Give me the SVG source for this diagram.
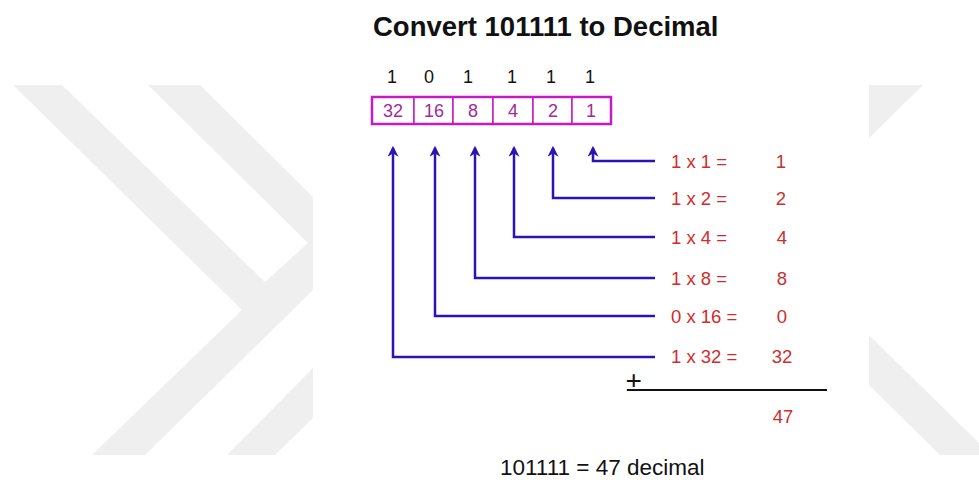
<svg xmlns="http://www.w3.org/2000/svg" width="979" height="480" viewBox="0 0 979 480">
  <defs>
    <style>
      .wm { fill: #efefef; }
      .title { font-family: "Liberation Sans", Arial, sans-serif; font-weight: bold; font-size: 27.5px; fill: #111; }
      .bit { font-family: "Liberation Sans", Arial, sans-serif; font-size: 18px; fill: #111; text-anchor: middle; }
      .cellnum { font-family: "Liberation Sans", Arial, sans-serif; font-size: 18px; fill: #a02aa0; text-anchor: middle; }
      .cell { fill: #fff; stroke: #c21cc2; stroke-width: 1.5; }
      .frame { fill: none; stroke: #c21cc2; stroke-width: 2.5; }
      .eq { font-family: "Liberation Sans", Arial, sans-serif; font-size: 18.5px; fill: #d42a2a; }
      .res { font-family: "Liberation Sans", Arial, sans-serif; font-size: 18.5px; fill: #c83030; text-anchor: middle; }
      .conn { fill: none; stroke: #2c14b4; stroke-width: 2.5; marker-end: url(#head); }
      .sum { font-family: "Liberation Sans", Arial, sans-serif; font-size: 22.5px; fill: #111; }
    </style>
    <marker id="head" viewBox="0 0 10 10" refX="8" refY="5" markerWidth="11" markerHeight="11" markerUnits="userSpaceOnUse" orient="auto">
      <path d="M0,0 L10,5 L0,10 L3,5 z" fill="#2c14b4"/>
    </marker>
  </defs>

  <rect width="979" height="480" fill="#ffffff"/>

  <!-- background chevron marks -->
  <g id="watermark">
    <polygon class="wm" points="13,85 62,85 265,282 308,243 148,85 200,85 313,197 313,290 145,455 92,455 242,310"/>
    <polygon class="wm" points="227,455 313,368 313,418 275,455"/>
    <polygon class="wm" points="869,85 923,85 869,138"/>
    <polygon class="wm" points="869,335 979,443 979,455 940,455 869,385"/>
  </g>

  <g id="title">
    <text class="title" x="373" y="36">Convert 101111 to Decimal</text>
  </g>

  <g id="bits">
    <text class="bit" x="392" y="83">1</text>
    <text class="bit" x="429" y="83">0</text>
    <text class="bit" x="468" y="83">1</text>
    <text class="bit" x="512" y="83">1</text>
    <text class="bit" x="551" y="83">1</text>
    <text class="bit" x="590" y="83">1</text>
  </g>

  <g id="place-values">
    <rect class="cell" x="372" y="97" width="42" height="27"/>
    <rect class="cell" x="414" y="97" width="39" height="27"/>
    <rect class="cell" x="453" y="97" width="40" height="27"/>
    <rect class="cell" x="493" y="97" width="40" height="27"/>
    <rect class="cell" x="533" y="97" width="39" height="27"/>
    <rect class="cell" x="572" y="97" width="39" height="27"/>
    <rect class="frame" x="372" y="97" width="239" height="27"/>
    <text class="cellnum" x="393" y="117">32</text>
    <text class="cellnum" x="434" y="117">16</text>
    <text class="cellnum" x="473" y="117">8</text>
    <text class="cellnum" x="513" y="117">4</text>
    <text class="cellnum" x="553" y="117">2</text>
    <text class="cellnum" x="591" y="117">1</text>
  </g>

  <g id="connectors">
    <polyline class="conn" points="655,161 593,161 593,148"/>
    <polyline class="conn" points="655,198 553,198 553,148"/>
    <polyline class="conn" points="655,237 514,237 514,148"/>
    <polyline class="conn" points="655,278 475,278 475,148"/>
    <polyline class="conn" points="655,316 435,316 435,148"/>
    <polyline class="conn" points="655,357 393,357 393,148"/>
  </g>

  <g id="products">
    <text class="eq" x="671" y="168">1 x 1 =</text>
    <text class="res" x="781" y="168">1</text>
    <text class="eq" x="671" y="205">1 x 2 =</text>
    <text class="res" x="781" y="205">2</text>
    <text class="eq" x="671" y="244">1 x 4 =</text>
    <text class="res" x="782" y="244">4</text>
    <text class="eq" x="671" y="285">1 x 8 =</text>
    <text class="res" x="782" y="285">8</text>
    <text class="eq" x="671" y="323">0 x 16 =</text>
    <text class="res" x="782" y="323">0</text>
    <text class="eq" x="671" y="363">1 x 32 =</text>
    <text class="res" x="782" y="363">32</text>
  </g>

  <g id="total">
    <text x="626" y="391" font-family="'Liberation Sans', Arial, sans-serif" font-size="28" fill="#111">±</text>
    <line x1="627" y1="390" x2="827" y2="390" stroke="#111" stroke-width="2"/>
    <text class="res" x="783" y="423" fill="#c84848">47</text>
  </g>

  <g id="result">
    <text class="sum" x="500" y="475">101111 = 47 decimal</text>
  </g>
</svg>
